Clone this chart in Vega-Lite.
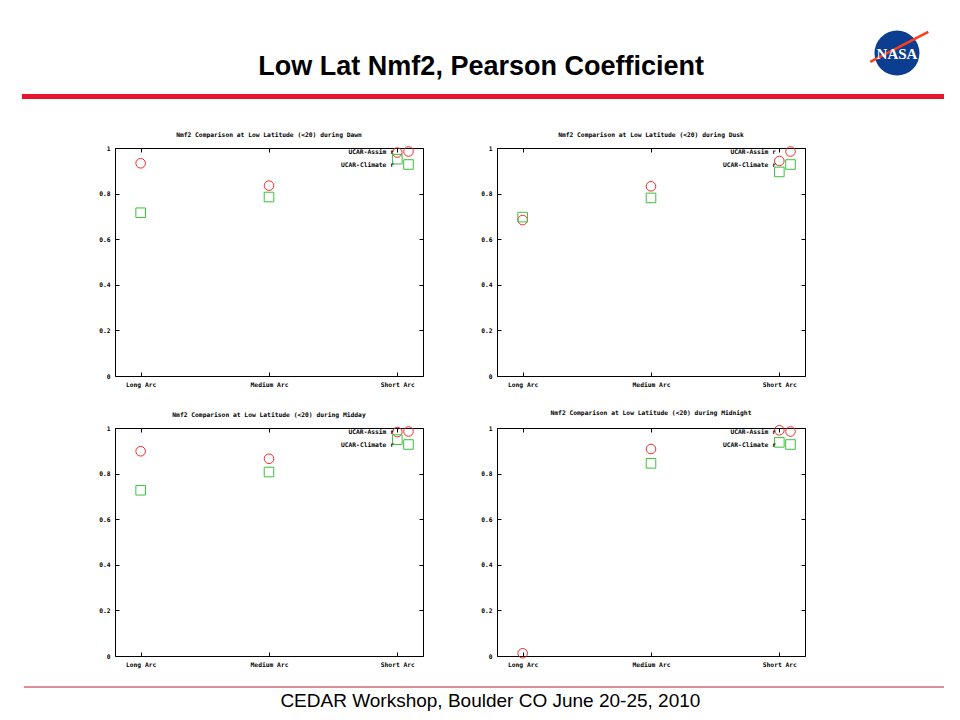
{
  "$schema": "https://vega.github.io/schema/vega-lite/v6.json",
  "padding": {"left": 22, "top": 0, "right": 0, "bottom": 0},
  "background": "white",
  "spacing": 0,
  "resolve": {"scale": {"color": "independent", "shape": "independent"}, "legend": {"color": "independent", "shape": "independent"}},
  "config": {
    "view": {"stroke": "black", "strokeWidth": 1},
    "axis": {"domain": false, "grid": false, "tickColor": "black", "labelColor": "black", "labelFont": "DejaVu Sans Mono", "labelFontWeight": "bold", "labelFontSize": 6.3},
    "title": {"font": "DejaVu Sans Mono", "fontWeight": "bold", "fontSize": 6.3, "color": "black", "offset": 7},
    "legend": {"labelFont": "DejaVu Sans Mono", "labelFontWeight": "bold", "labelFontSize": 6.3, "labelColor": "black", "columns": 1, "rowPadding": -4}
  },
  "datasets": {
    "pc": [
      {"panel": "Dawn", "arc": "Long Arc", "series": "UCAR-Assim r", "r": 0.933},
      {"panel": "Dawn", "arc": "Long Arc", "series": "UCAR-Climate r", "r": 0.716},
      {"panel": "Dawn", "arc": "Medium Arc", "series": "UCAR-Assim r", "r": 0.835},
      {"panel": "Dawn", "arc": "Medium Arc", "series": "UCAR-Climate r", "r": 0.785},
      {"panel": "Dawn", "arc": "Short Arc", "series": "UCAR-Assim r", "r": 0.980},
      {"panel": "Dawn", "arc": "Short Arc", "series": "UCAR-Climate r", "r": 0.951},
      {"panel": "Dusk", "arc": "Long Arc", "series": "UCAR-Assim r", "r": 0.684},
      {"panel": "Dusk", "arc": "Long Arc", "series": "UCAR-Climate r", "r": 0.697},
      {"panel": "Dusk", "arc": "Medium Arc", "series": "UCAR-Assim r", "r": 0.832},
      {"panel": "Dusk", "arc": "Medium Arc", "series": "UCAR-Climate r", "r": 0.781},
      {"panel": "Dusk", "arc": "Short Arc", "series": "UCAR-Assim r", "r": 0.943},
      {"panel": "Dusk", "arc": "Short Arc", "series": "UCAR-Climate r", "r": 0.895},
      {"panel": "Midday", "arc": "Long Arc", "series": "UCAR-Assim r", "r": 0.898},
      {"panel": "Midday", "arc": "Long Arc", "series": "UCAR-Climate r", "r": 0.727},
      {"panel": "Midday", "arc": "Medium Arc", "series": "UCAR-Assim r", "r": 0.865},
      {"panel": "Midday", "arc": "Medium Arc", "series": "UCAR-Climate r", "r": 0.807},
      {"panel": "Midday", "arc": "Short Arc", "series": "UCAR-Assim r", "r": 0.982},
      {"panel": "Midday", "arc": "Short Arc", "series": "UCAR-Climate r", "r": 0.949},
      {"panel": "Midnight", "arc": "Long Arc", "series": "UCAR-Assim r", "r": 0.012},
      {"panel": "Midnight", "arc": "Medium Arc", "series": "UCAR-Assim r", "r": 0.908},
      {"panel": "Midnight", "arc": "Medium Arc", "series": "UCAR-Climate r", "r": 0.845},
      {"panel": "Midnight", "arc": "Short Arc", "series": "UCAR-Assim r", "r": 0.990},
      {"panel": "Midnight", "arc": "Short Arc", "series": "UCAR-Climate r", "r": 0.937}
    ]
  },
  "vconcat": [
    {
      "width": 922, "height": 131, "view": {"stroke": null},
      "data": {"values": [{"title": "Low Lat Nmf2, Pearson Coefficient", "logo": "NASA"}]},
      "layer": [
        {"mark": {"type": "rect", "color": "#e8132f"},
         "encoding": {
           "x": {"datum": 0, "type": "quantitative", "scale": {"domain": [0, 1], "nice": false, "zero": false}, "axis": null},
           "x2": {"datum": 1},
           "y": {"datum": 0.718, "type": "quantitative", "scale": {"domain": [0, 1], "nice": false, "zero": false, "reverse": true}, "axis": null},
           "y2": {"datum": 0.756}}},
        {"mark": {"type": "text", "font": "Liberation Sans", "fontWeight": "bold", "fontSize": 27, "color": "black", "baseline": "alphabetic", "align": "center"},
         "encoding": {
           "x": {"datum": 0.498, "type": "quantitative", "scale": {"domain": [0, 1], "nice": false, "zero": false}, "axis": null},
           "y": {"datum": 0.573, "type": "quantitative", "scale": {"domain": [0, 1], "nice": false, "zero": false, "reverse": true}, "axis": null},
           "text": {"field": "title"}}},
        {"mark": {"type": "point", "shape": "circle", "filled": true, "size": 2025, "color": "#0b3d91", "opacity": 1},
         "encoding": {
           "x": {"datum": 0.949, "type": "quantitative", "scale": {"domain": [0, 1], "nice": false, "zero": false}, "axis": null},
           "y": {"datum": 0.405, "type": "quantitative", "scale": {"domain": [0, 1], "nice": false, "zero": false, "reverse": true}, "axis": null}}},
        {"mark": {"type": "rule", "color": "#fc3d21", "strokeWidth": 2.5},
         "encoding": {
           "x": {"datum": 0.920, "type": "quantitative", "scale": {"domain": [0, 1], "nice": false, "zero": false}, "axis": null},
           "x2": {"datum": 0.983},
           "y": {"datum": 0.473, "type": "quantitative", "scale": {"domain": [0, 1], "nice": false, "zero": false, "reverse": true}, "axis": null},
           "y2": {"datum": 0.244}}},
        {"mark": {"type": "text", "font": "Liberation Serif", "fontWeight": "bold", "fontSize": 15, "color": "white", "baseline": "middle", "align": "center"},
         "encoding": {
           "x": {"datum": 0.949, "type": "quantitative", "scale": {"domain": [0, 1], "nice": false, "zero": false}, "axis": null},
           "y": {"datum": 0.41, "type": "quantitative", "scale": {"domain": [0, 1], "nice": false, "zero": false, "reverse": true}, "axis": null},
           "text": {"field": "logo"}}}
      ]
    },
    {
      "bounds": "flush", "spacing": 74,
      "resolve": {"scale": {"color": "independent", "shape": "independent"}, "legend": {"color": "independent", "shape": "independent"}},
      "hconcat": [
        {"width": 19, "height": 261, "view": {"stroke": null}, "data": {"values": []}, "mark": "point", "encoding": {}},
        {
          "width": 308, "height": 228,
          "title": "Nmf2 Comparison at Low Latitude (<20) during Dawn",
          "data": {"name": "pc"},
          "transform": [{"filter": "datum.panel === 'Dawn'"}],
          "layer": [
            {"mark": {"type": "point", "opacity": 0},
             "encoding": {
               "x": {"field": "arc", "type": "ordinal", "title": null, "scale": {"type": "point", "domain": ["Long Arc", "Medium Arc", "Short Arc"], "padding": 0.2}, "axis": {"orient": "top", "labels": false, "tickSize": -4}},
               "y": {"field": "r", "type": "quantitative", "title": null, "scale": {"domain": [0, 1], "nice": false}, "axis": {"orient": "right", "labels": false, "tickSize": -4, "values": [0, 0.2, 0.4, 0.6, 0.8, 1]}}}},
            {"mark": {"type": "point", "filled": false, "size": 92, "strokeWidth": 1, "opacity": 1},
             "encoding": {
               "x": {"field": "arc", "type": "ordinal", "title": null, "scale": {"type": "point", "domain": ["Long Arc", "Medium Arc", "Short Arc"], "padding": 0.2}, "axis": {"orient": "bottom", "labelAngle": 0, "tickSize": -4, "labelPadding": 9}},
               "y": {"field": "r", "type": "quantitative", "title": null, "scale": {"domain": [0, 1], "nice": false}, "axis": {"orient": "left", "tickSize": -4, "labelPadding": 9, "format": "~g", "values": [0, 0.2, 0.4, 0.6, 0.8, 1]}},
               "color": {"field": "series", "type": "nominal", "scale": {"domain": ["UCAR-Assim r", "UCAR-Climate r"], "range": ["#f52a2a", "#3cc03c"]},
                 "legend": {"title": null, "orient": "none", "legendX": 288, "legendY": -2, "labelAlign": "right", "labelOffset": -20, "padding": 0, "symbolStrokeWidth": 1, "symbolSize": 92}},
               "shape": {"field": "series", "type": "nominal", "scale": {"domain": ["UCAR-Assim r", "UCAR-Climate r"], "range": ["circle", "square"]}}}}
          ],
          "resolve": {"axis": {"x": "independent", "y": "independent"}}
        },
        {
          "width": 308, "height": 228,
          "title": "Nmf2 Comparison at Low Latitude (<20) during Dusk",
          "data": {"name": "pc"},
          "transform": [{"filter": "datum.panel === 'Dusk'"}],
          "layer": [
            {"mark": {"type": "point", "opacity": 0},
             "encoding": {
               "x": {"field": "arc", "type": "ordinal", "title": null, "scale": {"type": "point", "domain": ["Long Arc", "Medium Arc", "Short Arc"], "padding": 0.2}, "axis": {"orient": "top", "labels": false, "tickSize": -4}},
               "y": {"field": "r", "type": "quantitative", "title": null, "scale": {"domain": [0, 1], "nice": false}, "axis": {"orient": "right", "labels": false, "tickSize": -4, "values": [0, 0.2, 0.4, 0.6, 0.8, 1]}}}},
            {"mark": {"type": "point", "filled": false, "size": 92, "strokeWidth": 1, "opacity": 1},
             "encoding": {
               "x": {"field": "arc", "type": "ordinal", "title": null, "scale": {"type": "point", "domain": ["Long Arc", "Medium Arc", "Short Arc"], "padding": 0.2}, "axis": {"orient": "bottom", "labelAngle": 0, "tickSize": -4, "labelPadding": 9}},
               "y": {"field": "r", "type": "quantitative", "title": null, "scale": {"domain": [0, 1], "nice": false}, "axis": {"orient": "left", "tickSize": -4, "labelPadding": 9, "format": "~g", "values": [0, 0.2, 0.4, 0.6, 0.8, 1]}},
               "color": {"field": "series", "type": "nominal", "scale": {"domain": ["UCAR-Assim r", "UCAR-Climate r"], "range": ["#f52a2a", "#3cc03c"]},
                 "legend": {"title": null, "orient": "none", "legendX": 288, "legendY": -2, "labelAlign": "right", "labelOffset": -20, "padding": 0, "symbolStrokeWidth": 1, "symbolSize": 92}},
               "shape": {"field": "series", "type": "nominal", "scale": {"domain": ["UCAR-Assim r", "UCAR-Climate r"], "range": ["circle", "square"]}}}}
          ],
          "resolve": {"axis": {"x": "independent", "y": "independent"}}
        }
      ]
    },
    {
      "bounds": "flush", "spacing": 74,
      "resolve": {"scale": {"color": "independent", "shape": "independent"}, "legend": {"color": "independent", "shape": "independent"}},
      "hconcat": [
        {"width": 19, "height": 258, "view": {"stroke": null}, "data": {"values": []}, "mark": "point", "encoding": {}},
        {
          "width": 308, "height": 228,
          "title": "Nmf2 Comparison at Low Latitude (<20) during Midday",
          "data": {"name": "pc"},
          "transform": [{"filter": "datum.panel === 'Midday'"}],
          "layer": [
            {"mark": {"type": "point", "opacity": 0},
             "encoding": {
               "x": {"field": "arc", "type": "ordinal", "title": null, "scale": {"type": "point", "domain": ["Long Arc", "Medium Arc", "Short Arc"], "padding": 0.2}, "axis": {"orient": "top", "labels": false, "tickSize": -4}},
               "y": {"field": "r", "type": "quantitative", "title": null, "scale": {"domain": [0, 1], "nice": false}, "axis": {"orient": "right", "labels": false, "tickSize": -4, "values": [0, 0.2, 0.4, 0.6, 0.8, 1]}}}},
            {"mark": {"type": "point", "filled": false, "size": 92, "strokeWidth": 1, "opacity": 1},
             "encoding": {
               "x": {"field": "arc", "type": "ordinal", "title": null, "scale": {"type": "point", "domain": ["Long Arc", "Medium Arc", "Short Arc"], "padding": 0.2}, "axis": {"orient": "bottom", "labelAngle": 0, "tickSize": -4, "labelPadding": 9}},
               "y": {"field": "r", "type": "quantitative", "title": null, "scale": {"domain": [0, 1], "nice": false}, "axis": {"orient": "left", "tickSize": -4, "labelPadding": 9, "format": "~g", "values": [0, 0.2, 0.4, 0.6, 0.8, 1]}},
               "color": {"field": "series", "type": "nominal", "scale": {"domain": ["UCAR-Assim r", "UCAR-Climate r"], "range": ["#f52a2a", "#3cc03c"]},
                 "legend": {"title": null, "orient": "none", "legendX": 288, "legendY": -2, "labelAlign": "right", "labelOffset": -20, "padding": 0, "symbolStrokeWidth": 1, "symbolSize": 92}},
               "shape": {"field": "series", "type": "nominal", "scale": {"domain": ["UCAR-Assim r", "UCAR-Climate r"], "range": ["circle", "square"]}}}}
          ],
          "resolve": {"axis": {"x": "independent", "y": "independent"}}
        },
        {
          "width": 308, "height": 228,
          "title": "Nmf2 Comparison at Low Latitude (<20) during Midnight",
          "data": {"name": "pc"},
          "transform": [{"filter": "datum.panel === 'Midnight'"}],
          "layer": [
            {"mark": {"type": "point", "opacity": 0},
             "encoding": {
               "x": {"field": "arc", "type": "ordinal", "title": null, "scale": {"type": "point", "domain": ["Long Arc", "Medium Arc", "Short Arc"], "padding": 0.2}, "axis": {"orient": "top", "labels": false, "tickSize": -4}},
               "y": {"field": "r", "type": "quantitative", "title": null, "scale": {"domain": [0, 1], "nice": false}, "axis": {"orient": "right", "labels": false, "tickSize": -4, "values": [0, 0.2, 0.4, 0.6, 0.8, 1]}}}},
            {"mark": {"type": "point", "filled": false, "size": 92, "strokeWidth": 1, "opacity": 1},
             "encoding": {
               "x": {"field": "arc", "type": "ordinal", "title": null, "scale": {"type": "point", "domain": ["Long Arc", "Medium Arc", "Short Arc"], "padding": 0.2}, "axis": {"orient": "bottom", "labelAngle": 0, "tickSize": -4, "labelPadding": 9}},
               "y": {"field": "r", "type": "quantitative", "title": null, "scale": {"domain": [0, 1], "nice": false}, "axis": {"orient": "left", "tickSize": -4, "labelPadding": 9, "format": "~g", "values": [0, 0.2, 0.4, 0.6, 0.8, 1]}},
               "color": {"field": "series", "type": "nominal", "scale": {"domain": ["UCAR-Assim r", "UCAR-Climate r"], "range": ["#f52a2a", "#3cc03c"]},
                 "legend": {"title": null, "orient": "none", "legendX": 288, "legendY": -2, "labelAlign": "right", "labelOffset": -20, "padding": 0, "symbolStrokeWidth": 1, "symbolSize": 92}},
               "shape": {"field": "series", "type": "nominal", "scale": {"domain": ["UCAR-Assim r", "UCAR-Climate r"], "range": ["circle", "square"]}}}}
          ],
          "resolve": {"axis": {"x": "independent", "y": "independent"}}
        }
      ]
    },
    {
      "width": 922, "height": 34, "view": {"stroke": null},
      "data": {"values": [{"footer": "CEDAR Workshop, Boulder CO June 20-25, 2010"}]},
      "layer": [
        {"mark": {"type": "rule", "color": "#c0203a", "strokeWidth": 1.2},
         "encoding": {
           "x": {"datum": 0.002, "type": "quantitative", "scale": {"domain": [0, 1], "nice": false, "zero": false}, "axis": null},
           "x2": {"datum": 1},
           "y": {"datum": 0.03, "type": "quantitative", "scale": {"domain": [0, 1], "nice": false, "zero": false, "reverse": true}, "axis": null}}},
        {"mark": {"type": "text", "font": "Liberation Sans", "fontSize": 19, "color": "black", "baseline": "alphabetic", "align": "center"},
         "encoding": {
           "x": {"datum": 0.508, "type": "quantitative", "scale": {"domain": [0, 1], "nice": false, "zero": false}, "axis": null},
           "y": {"datum": 0.609, "type": "quantitative", "scale": {"domain": [0, 1], "nice": false, "zero": false, "reverse": true}, "axis": null},
           "text": {"field": "footer"}}}
      ]
    }
  ]
}
